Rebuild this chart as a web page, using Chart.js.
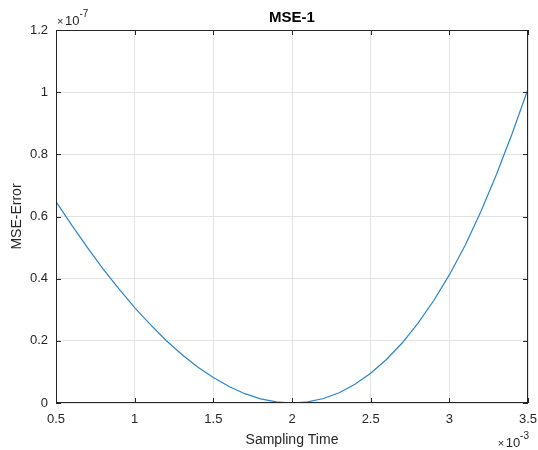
<!DOCTYPE html>
<html>
<head>
<meta charset="utf-8">
<script src="https://cdn.jsdelivr.net/npm/chart.js@4/dist/chart.umd.min.js"></script>
<style>
  html, body { margin: 0; padding: 0; background: #fff; }
  #wrap { width: 538px; height: 450px; }
</style>
</head>
<body>
<div id="wrap"><canvas id="chart" width="538" height="450"></canvas></div>
<script>
// sampling time (x 10^-3)
const samplingTime = [0.5, 0.6, 0.7, 0.8, 0.9, 1.0, 1.1, 1.2, 1.3, 1.4, 1.5,
    1.6, 1.7, 1.8, 1.9, 2.0, 2.1, 2.2, 2.3, 2.4, 2.5,
    2.6, 2.7, 2.8, 2.9, 3.0, 3.1, 3.2, 3.3, 3.4, 3.5];
// MSE error (x 10^-7)
const mseError = [0.648, 0.572, 0.500, 0.431, 0.367, 0.307, 0.252, 0.201, 0.156, 0.116, 0.082,
    0.053, 0.030, 0.0135, 0.0034, 0.0, 0.0036, 0.0145, 0.033, 0.060, 0.096,
    0.140, 0.193, 0.256, 0.329, 0.412, 0.507, 0.615, 0.736, 0.868, 1.010];
const xTicks = [0.5, 1, 1.5, 2, 2.5, 3, 3.5];
const yTicks = [0, 0.2, 0.4, 0.6, 0.8, 1, 1.2];

const axisColor = '#262626';
const fontFam = "'Liberation Sans', Arial, Helvetica, sans-serif";

const points = samplingTime.map((t, i) => ({x: t, y: mseError[i]}));

// draws "x10" with a raised exponent, starting at x, baseline y
function drawExponent(ctx, x, y, exp) {
    ctx.font = '11px ' + fontFam;
    ctx.fillText('\u00d7', x, y);
    const wx = ctx.measureText('\u00d7').width + 1.5;
    ctx.font = '13px ' + fontFam;
    ctx.fillText('10', x + wx, y);
    const w10 = ctx.measureText('10').width;
    ctx.font = '10px ' + fontFam;
    ctx.fillText(exp, x + wx + w10, y - 8);
}
function exponentWidth(ctx, exp) {
    ctx.font = '11px ' + fontFam;
    let w = ctx.measureText('\u00d7').width + 1.5;
    ctx.font = '13px ' + fontFam;
    w += ctx.measureText('10').width;
    ctx.font = '10px ' + fontFam;
    return w + ctx.measureText(exp).width;
}

// box, inward ticks and exponent labels like matlab axes
const matlabAxes = {
    id: 'matlab_axes',
    afterDatasetsDraw: (chart) => {
        const ctx = chart.ctx;
        const {top, left, right, bottom} = chart.chartArea;
        const xs = chart.scales.x, ys = chart.scales.y;
        ctx.save();
        ctx.strokeStyle = axisColor;
        ctx.lineWidth = 1;
        ctx.beginPath();
        xTicks.forEach(v => {
            const px = Math.round(xs.getPixelForValue(v)) + 0.5;
            ctx.moveTo(px, bottom); ctx.lineTo(px, bottom - 5);
            ctx.moveTo(px, top); ctx.lineTo(px, top + 5);
        });
        yTicks.forEach(v => {
            const py = Math.round(ys.getPixelForValue(v)) + 0.5;
            ctx.moveTo(left, py); ctx.lineTo(left + 5, py);
            ctx.moveTo(right, py); ctx.lineTo(right - 5, py);
        });
        ctx.stroke();
        ctx.strokeRect(Math.round(left) + 0.5, Math.round(top) + 0.5,
            Math.round(right - left) - 1, Math.round(bottom - top) - 1);

        ctx.fillStyle = axisColor;
        ctx.textBaseline = 'alphabetic';
        ctx.textAlign = 'left';
        drawExponent(ctx, left + 1, top - 5, '-7');
        drawExponent(ctx, right - exponentWidth(ctx, '-3') + 1, bottom + 44, '-3');
        ctx.restore();
    }
};

const fmt = v => String(+Number(v).toFixed(2));

Chart.defaults.font.family = fontFam;
Chart.defaults.color = axisColor;

new Chart(document.getElementById('chart').getContext('2d'), {
    type: 'line',
    data: {
        datasets: [{
            label: 'MSE',
            data: points,
            borderColor: '#2a85cc',
            backgroundColor: '#2a85cc',
            borderWidth: 1.2,
            pointRadius: 0,
            tension: 0,
            fill: false
        }]
    },
    plugins: [matlabAxes],
    options: {
        responsive: false,
        animation: false,
        layout: {
            padding: {left: 0, right: 10, top: 0, bottom: 0}
        },
        scales: {
            x: {
                type: 'linear',
                min: 0.5,
                max: 3.5,
                afterBuildTicks: (scale) => { scale.ticks = xTicks.map(v => ({value: v})); },
                afterFit: (scale) => {
                    scale.height = 47;
                    scale.paddingRight = 0;
                    scale.paddingLeft = 0;
                },
                grid: {
                    color: '#e3e3e3',
                    drawTicks: false,
                    tickLength: 0
                },
                border: { display: false },
                ticks: {
                    callback: fmt,
                    padding: 9,
                    maxRotation: 0,
                    font: { size: 13 },
                    color: axisColor
                },
                title: {
                    display: true,
                    text: 'Sampling Time',
                    font: { size: 14 },
                    color: axisColor,
                    padding: { top: 0, bottom: 1 }
                }
            },
            y: {
                min: 0,
                max: 1.2,
                afterBuildTicks: (scale) => { scale.ticks = yTicks.map(v => ({value: v})); },
                afterFit: (scale) => {
                    scale.width = 56;
                    scale.paddingTop = 0;
                    scale.paddingBottom = 0;
                },
                grid: {
                    color: '#e3e3e3',
                    drawTicks: false,
                    tickLength: 0
                },
                border: { display: false },
                ticks: {
                    callback: fmt,
                    padding: 8,
                    font: { size: 13 },
                    color: axisColor
                },
                title: {
                    display: true,
                    text: 'MSE-Error',
                    font: { size: 14 },
                    color: axisColor,
                    padding: { top: 9, bottom: 0 }
                }
            }
        },
        plugins: {
            legend: { display: false },
            tooltip: { enabled: false },
            title: {
                display: true,
                fullSize: false,
                text: 'MSE-1',
                color: '#000',
                font: { size: 15, weight: 'bold' },
                padding: { top: 9, bottom: 3 }
            }
        }
    }
});
</script>
</body>
</html>
